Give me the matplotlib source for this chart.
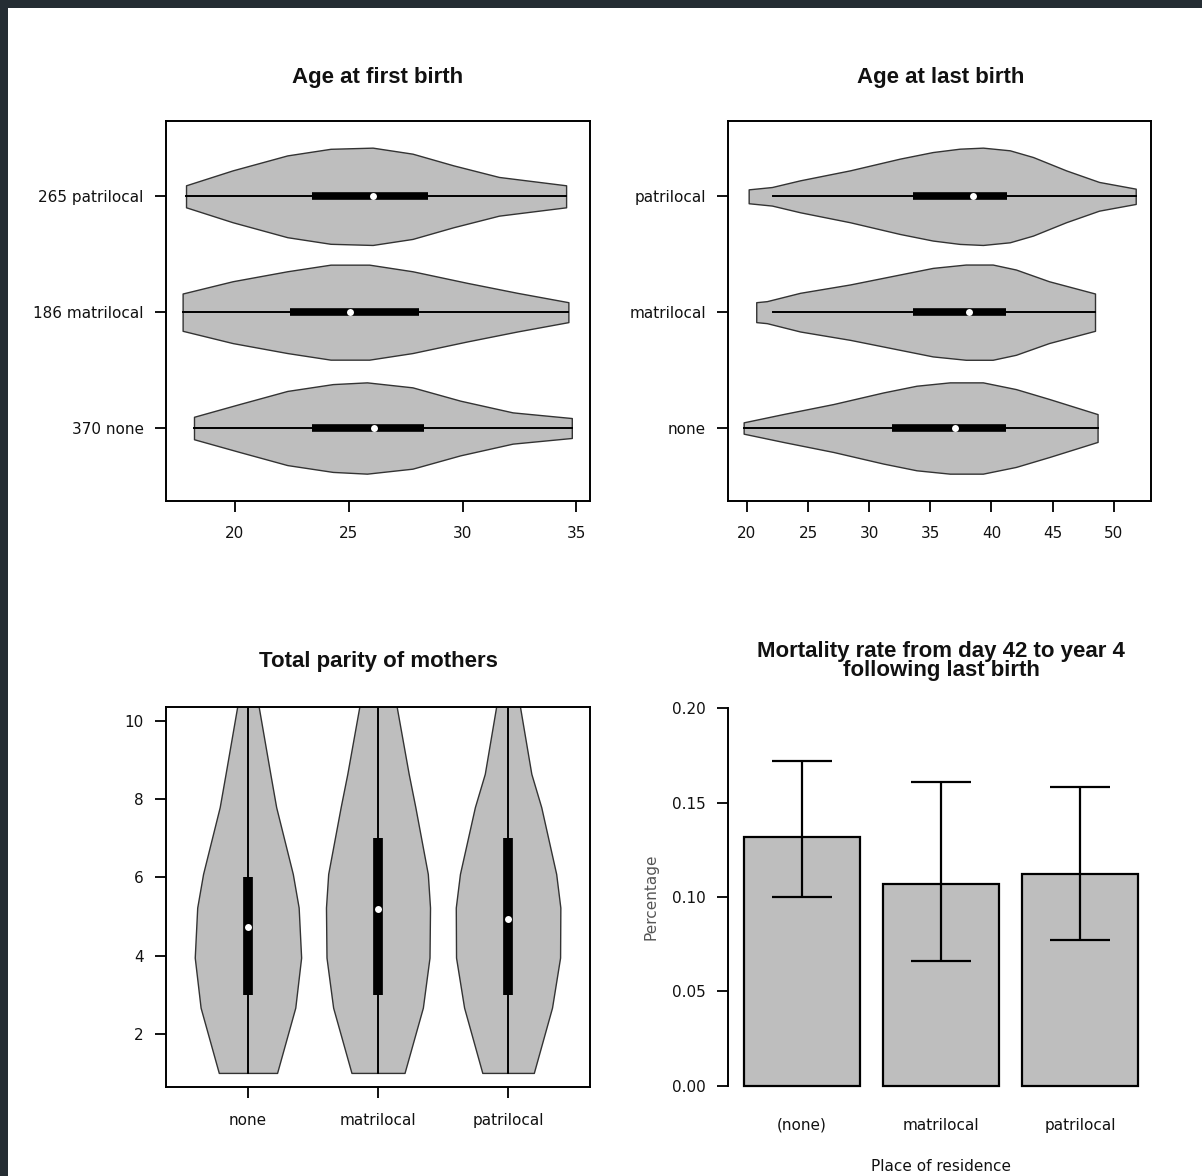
import matplotlib
matplotlib.use('Agg')
import matplotlib.pyplot as plt
from matplotlib.patches import Rectangle

# ---- data ----
groups = ['none', 'matrilocal', 'patrilocal']
first_labels = ['370 none', '186 matrilocal', '265 patrilocal']

# age at first birth: violin outline (age, half width) per group
first_x = {
    'none':       [18.2, 20.2, 22.3, 24.3, 25.8, 27.8, 29.9, 32.2, 34.8],
    'matrilocal': [17.7, 19.9, 22.3, 24.2, 25.9, 27.8, 30.2, 32.4, 34.65],
    'patrilocal': [17.85, 19.9, 22.3, 24.2, 26.05, 27.8, 29.6, 31.6, 34.55],
}
first_w = {
    'none':       [0.097, 0.207, 0.32, 0.379, 0.394, 0.351, 0.236, 0.135, 0.086],
    'matrilocal': [0.161, 0.267, 0.353, 0.41, 0.41, 0.353, 0.253, 0.167, 0.086],
    'patrilocal': [0.095, 0.224, 0.353, 0.41, 0.42, 0.368, 0.267, 0.167, 0.095],
}
first_q1 = [23.4, 22.4, 23.4]
first_q3 = [28.3, 28.1, 28.5]
first_med = [26.1, 25.05, 26.05]
first_lo = [18.2, 17.7, 17.85]
first_hi = [34.8, 34.65, 34.55]

# age at last birth
last_x = {
    'none':       [19.73, 22.99, 27.07, 31.15, 33.87, 36.59, 39.3, 42.0, 44.74, 48.68],
    'matrilocal': [20.76, 21.63, 24.35, 28.43, 32.5, 35.2, 37.9, 40.1, 42.0, 44.7, 48.47],
    'patrilocal': [20.14, 22.04, 24.35, 28.43, 32.5, 35.2, 37.4, 39.3, 41.5, 43.4, 46.1, 48.8, 51.8],
}
last_w = {
    'none':       [0.049, 0.121, 0.207, 0.307, 0.365, 0.394, 0.394, 0.336, 0.25, 0.12],
    'matrilocal': [0.086, 0.095, 0.167, 0.239, 0.325, 0.382, 0.411, 0.411, 0.368, 0.267, 0.161],
    'patrilocal': [0.06, 0.08, 0.138, 0.224, 0.325, 0.382, 0.411, 0.42, 0.397, 0.339, 0.224, 0.124, 0.066],
}
last_q1 = [31.9, 33.6, 33.6]
last_q3 = [41.15, 41.15, 41.3]
last_med = [37.0, 38.2, 38.5]
last_lo = [19.73, 22.1, 22.1]
last_hi = [48.68, 48.47, 51.8]

# total parity: violin outline (parity, half width)
parity_y = [1.0, 2.67, 3.95, 5.23, 6.09, 7.8, 8.65, 10.36, 11.5]
parity_w = {
    'none':       [0.224, 0.364, 0.409, 0.39, 0.345, 0.217, 0.172, 0.083, 0.03],
    'matrilocal': [0.204, 0.345, 0.396, 0.40, 0.383, 0.287, 0.236, 0.144, 0.08],
    'patrilocal': [0.198, 0.338, 0.40, 0.402, 0.37, 0.255, 0.179, 0.092, 0.04],
}
parity_q1 = [3, 3, 3]
parity_q3 = [6, 7, 7]
parity_med = [4.72, 5.19, 4.93]
parity_lo = [1, 1, 1]
parity_hi = [12, 12, 12]

# mortality
mort_labels = ['(none)', 'matrilocal', 'patrilocal']
mort_rate = [0.132, 0.107, 0.112]
mort_low = [0.100, 0.066, 0.077]
mort_high = [0.172, 0.161, 0.158]

# ---- figure ----
W, H = 1202, 1176
plt.rcParams['font.family'] = ['DejaVu Sans']
plt.rcParams['font.size'] = 11
fig = plt.figure(figsize=(W / 100, H / 100), dpi=100, facecolor='#252d33')
fig.add_artist(Rectangle((8 / W, 0), 1 - 8 / W, 1 - 8 / H, transform=fig.transFigure,
                         facecolor='white', edgecolor='none', zorder=-10))

def rect(l, r, t, b):
    return [l / W, 1 - b / H, (r - l) / W, (b - t) / H]

grey = '#bebebe'
outline = '#333333'
ink = '#111111'

def style(ax):
    for s in ax.spines.values():
        s.set_linewidth(1.4)
    ax.tick_params(length=8, width=1.4, colors=ink, labelsize=11)

def title(x, y, txt):
    fig.text(x / W, 1 - y / H, txt, ha='center', va='center', family='Liberation Sans',
             weight='bold', fontsize=16, color=ink, linespacing=0.9)

def hviolins(ax, xs, ws, q1, q3, med, lo, hi):
    for i, g in enumerate(groups):
        p = i + 1
        x = xs[g]; w = ws[g]
        ax.fill_between(x, [p - v for v in w], [p + v for v in w], facecolor=grey,
                        edgecolor=outline, lw=1.0, joinstyle='round')
        ax.plot([lo[i], hi[i]], [p, p], color='black', lw=1.4)
        ax.plot([q1[i], q3[i]], [p, p], color='black', lw=5.5, solid_capstyle='butt')
        ax.plot(med[i], p, 'o', color='white', ms=5, mec='none')

# top left
ax1 = fig.add_axes(rect(166, 590, 121, 501))
hviolins(ax1, first_x, first_w, first_q1, first_q3, first_med, first_lo, first_hi)
ax1.set_xlim(16.97, 35.6)
ax1.set_ylim(0.37, 3.65)
ax1.set_xticks([20, 25, 30, 35])
ax1.set_yticks([1, 2, 3], first_labels)
style(ax1)
ax1.tick_params(axis='x', pad=10)
ax1.tick_params(axis='y', pad=8)
title(378, 77, 'Age at first birth')

# top right
ax2 = fig.add_axes(rect(728, 1151, 121, 501))
hviolins(ax2, last_x, last_w, last_q1, last_q3, last_med, last_lo, last_hi)
ax2.set_xlim(18.45, 53.05)
ax2.set_ylim(0.37, 3.65)
ax2.set_xticks([20, 25, 30, 35, 40, 45, 50])
ax2.set_yticks([1, 2, 3], groups)
style(ax2)
ax2.tick_params(axis='x', pad=10)
ax2.tick_params(axis='y', pad=8)
title(941, 77, 'Age at last birth')

# bottom left
ax3 = fig.add_axes(rect(166, 590, 707, 1087))
for i, g in enumerate(groups):
    p = i + 1
    w = parity_w[g]
    ax3.fill_betweenx(parity_y, [p - v for v in w], [p + v for v in w], facecolor=grey,
                      edgecolor=outline, lw=1.0, joinstyle='round')
    ax3.plot([p, p], [parity_lo[i], parity_hi[i]], color='black', lw=1.4)
    ax3.plot([p, p], [parity_q1[i], parity_q3[i]], color='black', lw=7, solid_capstyle='butt')
    ax3.plot(p, parity_med[i], 'o', color='white', ms=5, mec='none')
ax3.set_xlim(0.37, 3.63)
ax3.set_ylim(0.64, 10.36)
ax3.set_xticks([1, 2, 3], groups)
ax3.set_yticks([2, 4, 6, 8, 10])
style(ax3)
ax3.tick_params(axis='x', pad=11)
ax3.tick_params(axis='y', pad=8)
title(378, 661, 'Total parity of mothers')

# bottom right
ax4 = fig.add_axes(rect(728, 1154, 693, 1101))
xpos = [0.7, 1.9, 3.1]
ax4.bar(xpos, mort_rate, width=1.0, color=grey, edgecolor='black', lw=1.6)
err = [[r - l for r, l in zip(mort_rate, mort_low)], [h - r for r, h in zip(mort_rate, mort_high)]]
ax4.errorbar(xpos, mort_rate, yerr=err, fmt='none', ecolor='black', elinewidth=1.6,
             capsize=21.5, capthick=1.6)
ax4.set_xlim(0.064, 3.736)
ax4.set_ylim(-0.008, 0.208)
for s in ['top', 'right', 'bottom']:
    ax4.spines[s].set_visible(False)
ax4.spines['left'].set_bounds(0, 0.2)
ax4.set_yticks([0.0, 0.05, 0.10, 0.15, 0.20], ['0.00', '0.05', '0.10', '0.15', '0.20'])
ax4.set_xticks(xpos, mort_labels)
style(ax4)
ax4.tick_params(axis='x', length=0, pad=12)
ax4.tick_params(axis='y', pad=8)
ax4.set_ylabel('Percentage', color='#555555', fontsize=11, labelpad=10)
ax4.set_xlabel('Place of residence', color=ink, fontsize=11, labelpad=19)
title(941, 661, 'Mortality rate from day 42 to year 4\nfollowing last birth')

fig.savefig('out.png', dpi=100, facecolor=fig.get_facecolor())
